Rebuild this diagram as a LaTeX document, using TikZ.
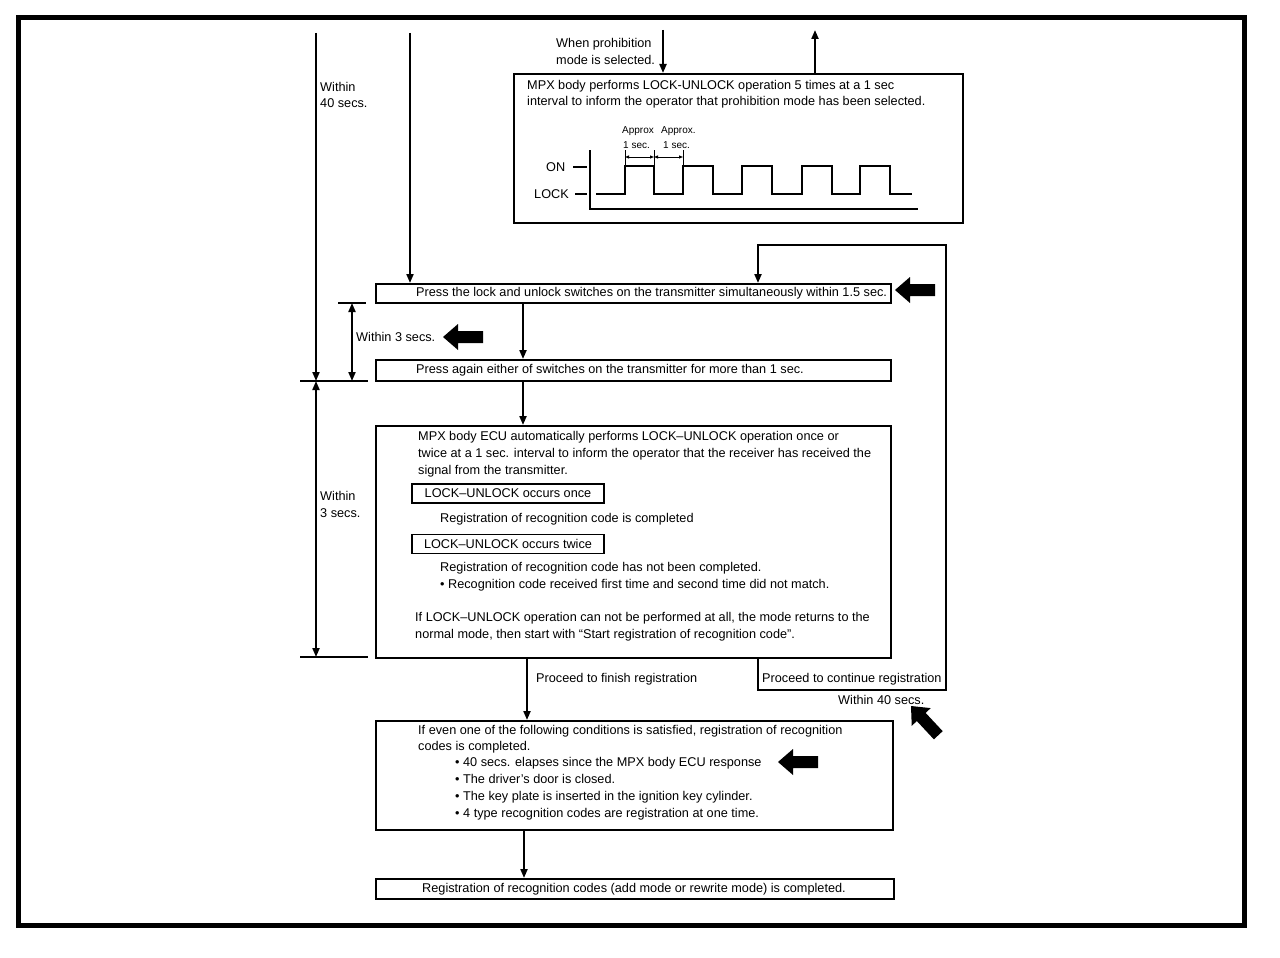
\documentclass[tikz,border=0pt]{standalone}
\usepackage{fontspec}
\setmainfont{Liberation Sans}
\usetikzlibrary{arrows.meta}
\begin{document}
\begin{tikzpicture}[x=1pt,y=-1pt,
  box/.style={draw, line width=2pt, inner sep=0pt, anchor=north west},
  smallbox/.style={draw, line width=1.6pt, inner sep=0pt, minimum width=192pt, minimum height=19pt, font=\fontsize{12.7}{14}\selectfont},
  txt/.style={inner sep=0pt, anchor=base west, font=\fontsize{12.7}{14}\selectfont},
  stxt/.style={inner sep=0pt, anchor=base west, font=\fontsize{10}{12}\selectfont},
  conn/.style={line width=2pt, -{Triangle[length=9pt,width=7pt]}},
  dimboth/.style={line width=2pt, {Triangle[length=9pt,width=7pt]}-{Triangle[length=9pt,width=7pt]}},
  thin/.style={line width=1.6pt},
  blk/.pic={\fill (0,0) -- (15,-13) -- (15,-6) -- (40,-6) -- (40,6) -- (15,6) -- (15,13) -- cycle;}
]
\useasboundingbox (0,0) rectangle (1280,958);
\draw[line width=5pt] (18.5,17.5) rectangle (1244.5,925);

% ---------- top box ----------
\node[box, minimum width=449pt, minimum height=149pt] (tb) at (513,73) {};
\coordinate (inTop) at (663,30);
\coordinate (outTop) at (815,30);
\draw[conn] (inTop) -- (inTop |- tb.north);
\draw[conn] (tb.north -| outTop) -- (outTop);
\node[txt] (wp1) at (556,47.5) {When prohibition};
\node[txt] (wp2) at (556,64.5) {mode is selected.};
\node[txt] (tb1) at (527,89.5) {MPX body performs LOCK-UNLOCK operation 5 times at a 1 sec};
\node[txt] (tb2) at (527,105.5) {interval to inform the operator that prohibition mode has been selected.};

% timing diagram
\node[stxt] (ap1) at (622,133) {Approx};
\node[stxt] (ap2) at (623,148) {1 sec.};
\node[stxt] (ap3) at (661,133) {Approx.};
\node[stxt] (ap4) at (663,148) {1 sec.};
\node[txt] (on) at (546,171.5) {ON};
\node[txt] (lock) at (534,198.5) {LOCK};
\draw[thin] (573,167) -- (587,167);
\draw[thin] (575,194) -- (587,194);
\draw[thin] (590,150) -- (590,209) -- (918,209);
\draw[thin] (596,194) -- (625,194) -- (625,166) -- (654,166) -- (654,194) -- (683,194) -- (683,166)
  -- (713,166) -- (713,194) -- (742,194) -- (742,166) -- (772,166) -- (772,194) -- (802,194)
  -- (802,166) -- (832,166) -- (832,194) -- (860,194) -- (860,166) -- (890,166) -- (890,194) -- (912,194);
\draw[line width=1pt] (625,150) -- (625,166);
\draw[line width=1pt] (654,150) -- (654,166);
\draw[line width=1pt] (683,150) -- (683,166);
\draw[line width=1pt, {Triangle[length=4pt,width=3pt]}-{Triangle[length=4pt,width=3pt]}] (625,157) -- (654,157);
\draw[line width=1pt, {Triangle[length=4pt,width=3pt]}-{Triangle[length=4pt,width=3pt]}] (654,157) -- (683,157);

% ---------- main boxes ----------
\node[box, minimum width=515pt, minimum height=19pt] (b1) at (375,283) {};
\node[box, minimum width=515pt, minimum height=21pt] (b2) at (375,359) {};
\node[box, minimum width=515pt, minimum height=232pt] (b3) at (375,425) {};
\node[box, minimum width=517pt, minimum height=109pt] (b4) at (375,720) {};
\node[box, minimum width=518pt, minimum height=20pt] (b5) at (375,878) {};

\node[txt] (b1t) at (416,296.5) {Press the lock and unlock switches on the transmitter simultaneously within 1.5 sec.};
\node[txt] (b2t) at (416,373.5) {Press again either of switches on the transmitter for more than 1 sec.};

\node[txt] (b3a) at (418,440.5) {MPX body ECU automatically performs LOCK–UNLOCK operation once or};
\node[txt] (b3b) at (418,457.5) {twice at a 1 sec. interval to inform the operator that the receiver has received the};
\node[txt] (b3c) at (418,474.5) {signal from the transmitter.};
\node[smallbox] (once) at (508,493.5) {LOCK–UNLOCK occurs once};
\node[txt] (b3d) at (440,522.5) {Registration of recognition code is completed};
\node[smallbox] (twice) at (508,544) {LOCK–UNLOCK occurs twice};
\node[txt] (b3e) at (440,571.5) {Registration of recognition code has not been completed.};
\node[txt] (b3f) at (440,588.5) {• Recognition code received first time and second time did not match.};
\node[txt] (b3g) at (415,621.5) {If LOCK–UNLOCK operation can not be performed at all, the mode returns to the};
\node[txt] (b3h) at (415,638.5) {normal mode, then start with “Start registration of recognition code”.};

\node[txt] (b4a) at (418,734.5) {If even one of the following conditions is satisfied, registration of recognition};
\node[txt] (b4b) at (418,750.5) {codes is completed.};
\node[txt] (b4c) at (455,766.5) {• 40 secs. elapses since the MPX body ECU response};
\node[txt] (b4d) at (455,783.5) {• The driver’s door is closed.};
\node[txt] (b4e) at (455,800.5) {• The key plate is inserted in the ignition key cylinder.};
\node[txt] (b4f) at (455,817.5) {• 4 type recognition codes are registration at one time.};

\node[txt, anchor=base] (b5t) at (634,892.5) {Registration of recognition codes (add mode or rewrite mode) is completed.};

% ---------- connectors ----------
\coordinate (bTop) at (410,33);
\draw[conn] (bTop) -- (bTop |- b1.north);
\coordinate (c1) at (523,0);
\coordinate (c2) at (527,0);
\coordinate (c3) at (524,0);
\draw[conn] (b1.south -| c1) -- (b2.north -| c1);
\draw[conn] (b2.south -| c1) -- (b3.north -| c1);
\draw[conn] (b3.south -| c2) -- (b4.north -| c2);
\draw[conn] (b4.south -| c3) -- (b5.north -| c3);
\node[txt] (pf) at (536,682.5) {Proceed to finish registration};

\coordinate (lp) at (758,690);
\coordinate (rp) at (946,245);
\draw[conn] (b3.south -| lp) -- (lp) -- (rp |- lp) -- (rp) -- (rp -| lp) -- (b1.north -| lp);
\node[txt] (pc) at (762,682.5) {Proceed to continue registration};
\node[txt] (w40b) at (838,704.5) {Within 40 secs.};

% ---------- time dimensions ----------
\coordinate (d40top) at (316,33);
\coordinate (d40bot) at (316,381);
\draw[conn] (d40top) -- (d40bot);
\node[txt] (w40a) at (320,91.5) {Within};
\node[txt] (w40c) at (320,107.5) {40 secs.};
\draw[line width=2pt] (300,381) -- (368,381);
\draw[line width=2pt] (300,657) -- (368,657);
\draw[line width=2pt] (338,303) -- (366,303);
\draw[dimboth] (352,303) -- (352,381);
\node[txt] (w3a) at (356,341.5) {Within 3 secs.};
\draw[dimboth] (316,381) -- (316,657);
\node[txt] (w3b) at (320,500.5) {Within};
\node[txt] (w3c) at (320,517.5) {3 secs.};

% ---------- block arrows ----------
\pic at (895,290) {blk};
\pic at (443,337) {blk};
\pic at (778,762) {blk};
\pic[rotate=-47] at (911,706) {blk};
\end{tikzpicture}
\end{document}
